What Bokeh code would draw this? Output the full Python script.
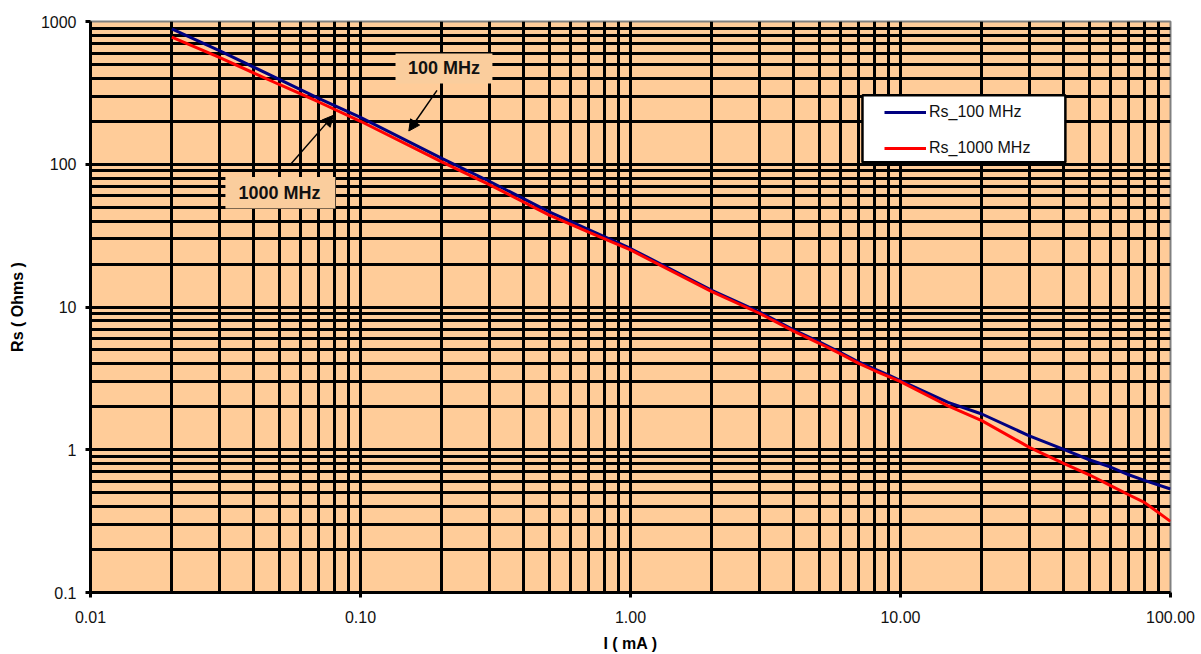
from bokeh.plotting import figure
from bokeh.models import FixedTicker, CustomJSTickFormatter, Arrow, NormalHead, Range1d
from bokeh.core.properties import value
from bokeh.embed import file_html
from bokeh.resources import INLINE

# ---------------- data ----------------
current_ma = [0.02, 0.03, 0.05, 0.07, 0.1, 0.2, 0.3, 0.5, 0.7, 1, 2, 3, 4, 5, 6, 7, 8, 9,
              10, 15, 20, 30, 40, 50, 60, 70, 80, 100]
rs_100mhz = [889, 626, 393, 289, 213, 110, 76, 46.4, 34.8, 25.7, 13.1, 9.25, 6.95, 5.7, 4.8,
             4.12, 3.68, 3.35, 3.05, 2.15, 1.78, 1.25, 1.01, 0.851, 0.757, 0.668, 0.61, 0.531]
rs_1000mhz = [776, 560, 362, 273, 200, 104, 72, 44, 33.4, 25.1, 12.8, 9.04, 6.8, 5.57, 4.69,
              4.03, 3.59, 3.26, 3.0, 2.03, 1.6, 1.04, 0.807, 0.668, 0.56, 0.484, 0.428, 0.315]

series_names = ["Rs_100 MHz", "Rs_1000 MHz"]
annotation_texts = ["100 MHz", "1000 MHz"]

x_major_ticks = [0.01, 0.1, 1, 10, 100]
x_tick_labels = ["0.01", "0.10", "1.00", "10.00", "100.00"]
y_major_ticks = [0.1, 1, 10, 100, 1000]
y_tick_labels = ["0.1", "1", "10", "100", "1000"]

x_title = "I ( mA )"
y_title = "Rs ( Ohms )"

# ---------------- styling / layout ----------------
FONT = "Liberation Sans"
BG = "#FFCC99"
BOX_FILL = "#FACD9D"

x_grid_ticks = [m * 10.0 ** e for e in (-2, -1, 0, 1) for m in range(1, 10)]
y_grid_ticks = [m * 10.0 ** e for e in (-1, 0, 1, 2) for m in range(1, 10)]

p = figure(width=1199, height=654,
           x_axis_type="log", y_axis_type="log",
           x_range=Range1d(0.01, 100), y_range=Range1d(0.1, 1000),
           output_backend="svg", toolbar_location=None,
           min_border_left=90, min_border_right=29, min_border_top=21, min_border_bottom=61,
           background_fill_color=BG, border_fill_color="white",
           outline_line_color="#808080", outline_line_width=2)

# grid
p.xgrid.ticker = FixedTicker(ticks=x_grid_ticks)
p.ygrid.ticker = FixedTicker(ticks=y_grid_ticks)
for g in (p.xgrid, p.ygrid):
    g.grid_line_color = "black"
    g.grid_line_width = 3
    g.grid_line_alpha = 1.0

fmt_code = """
for (let i = 0; i < tv.length; i++) {
  if (Math.abs(Math.log10(tick) - Math.log10(tv[i])) < 1e-6) { return lb[i]; }
}
return "";
"""
p.xaxis.ticker = FixedTicker(ticks=x_major_ticks, minor_ticks=[])
p.yaxis.ticker = FixedTicker(ticks=y_major_ticks, minor_ticks=[])
p.xaxis.formatter = CustomJSTickFormatter(args=dict(tv=x_major_ticks, lb=x_tick_labels), code=fmt_code)
p.yaxis.formatter = CustomJSTickFormatter(args=dict(tv=y_major_ticks, lb=y_tick_labels), code=fmt_code)

for ax in (p.xaxis, p.yaxis):
    ax.axis_line_color = "black"
    ax.axis_line_width = 3
    ax.major_tick_line_color = "black"
    ax.major_tick_line_width = 3
    ax.major_tick_out = 5
    ax.major_tick_in = 0
    ax.minor_tick_line_color = None
    ax.major_label_text_font = FONT
    ax.major_label_text_font_size = "16px"
    ax.major_label_text_color = "#111111"
    ax.axis_label_text_font = FONT
    ax.axis_label_text_font_size = "16px"
    ax.axis_label_text_font_style = "bold"
    ax.axis_label_text_color = "black"

p.xaxis.axis_label = x_title
p.yaxis.axis_label = y_title
p.xaxis.major_label_standoff = 13
p.xaxis.axis_label_standoff = 9
p.yaxis.major_label_standoff = 9
p.yaxis.axis_label_standoff = 12

# annotation boxes (behind curves & text)
p.quad(left=[0.1348, 0.0316], right=[0.308, 0.0807], top=[597, 81.5], bottom=[368, 49.0],
       fill_color=BOX_FILL, line_color=None)
# legend frame
p.quad(left=[7.23], right=[40.8], top=[303.8], bottom=[103.3],
       fill_color="white", line_color="black", line_width=2.5)

# curves
p.line(current_ma, rs_100mhz, line_color="#000080", line_width=3, legend_label=series_names[0])
p.line(current_ma, rs_1000mhz, line_color="#FF0000", line_width=3, legend_label=series_names[1])

# annotation texts
p.text(x=[0.2038, 0.0501], y=[469, 63.2], text=annotation_texts,
       text_font=value(FONT), text_font_style="bold", text_font_size="18px",
       text_align="center", text_baseline="middle", text_color="#111111")

# arrows
p.add_layout(Arrow(end=NormalHead(size=11, fill_color="black", line_color="black"),
                   x_start=0.192, y_start=329, x_end=0.151, y_end=171,
                   line_color="black", line_width=1.5))
p.add_layout(Arrow(end=NormalHead(size=11, fill_color="black", line_color="black"),
                   x_start=0.0547, y_start=98.4, x_end=0.0793, y_end=220,
                   line_color="black", line_width=1.5))

# legend
lg = p.legend[0]
lg.location = (794, 434)
lg.padding = 0
lg.margin = 0
lg.spacing = 16
lg.glyph_width = 42
lg.glyph_height = 20
lg.label_height = 20
lg.label_standoff = 3
lg.label_text_font = FONT
lg.label_text_font_size = "16px"
lg.label_text_color = "#111111"
lg.border_line_color = None
lg.background_fill_alpha = 0

open("out.html", "w").write(file_html(p, INLINE))
